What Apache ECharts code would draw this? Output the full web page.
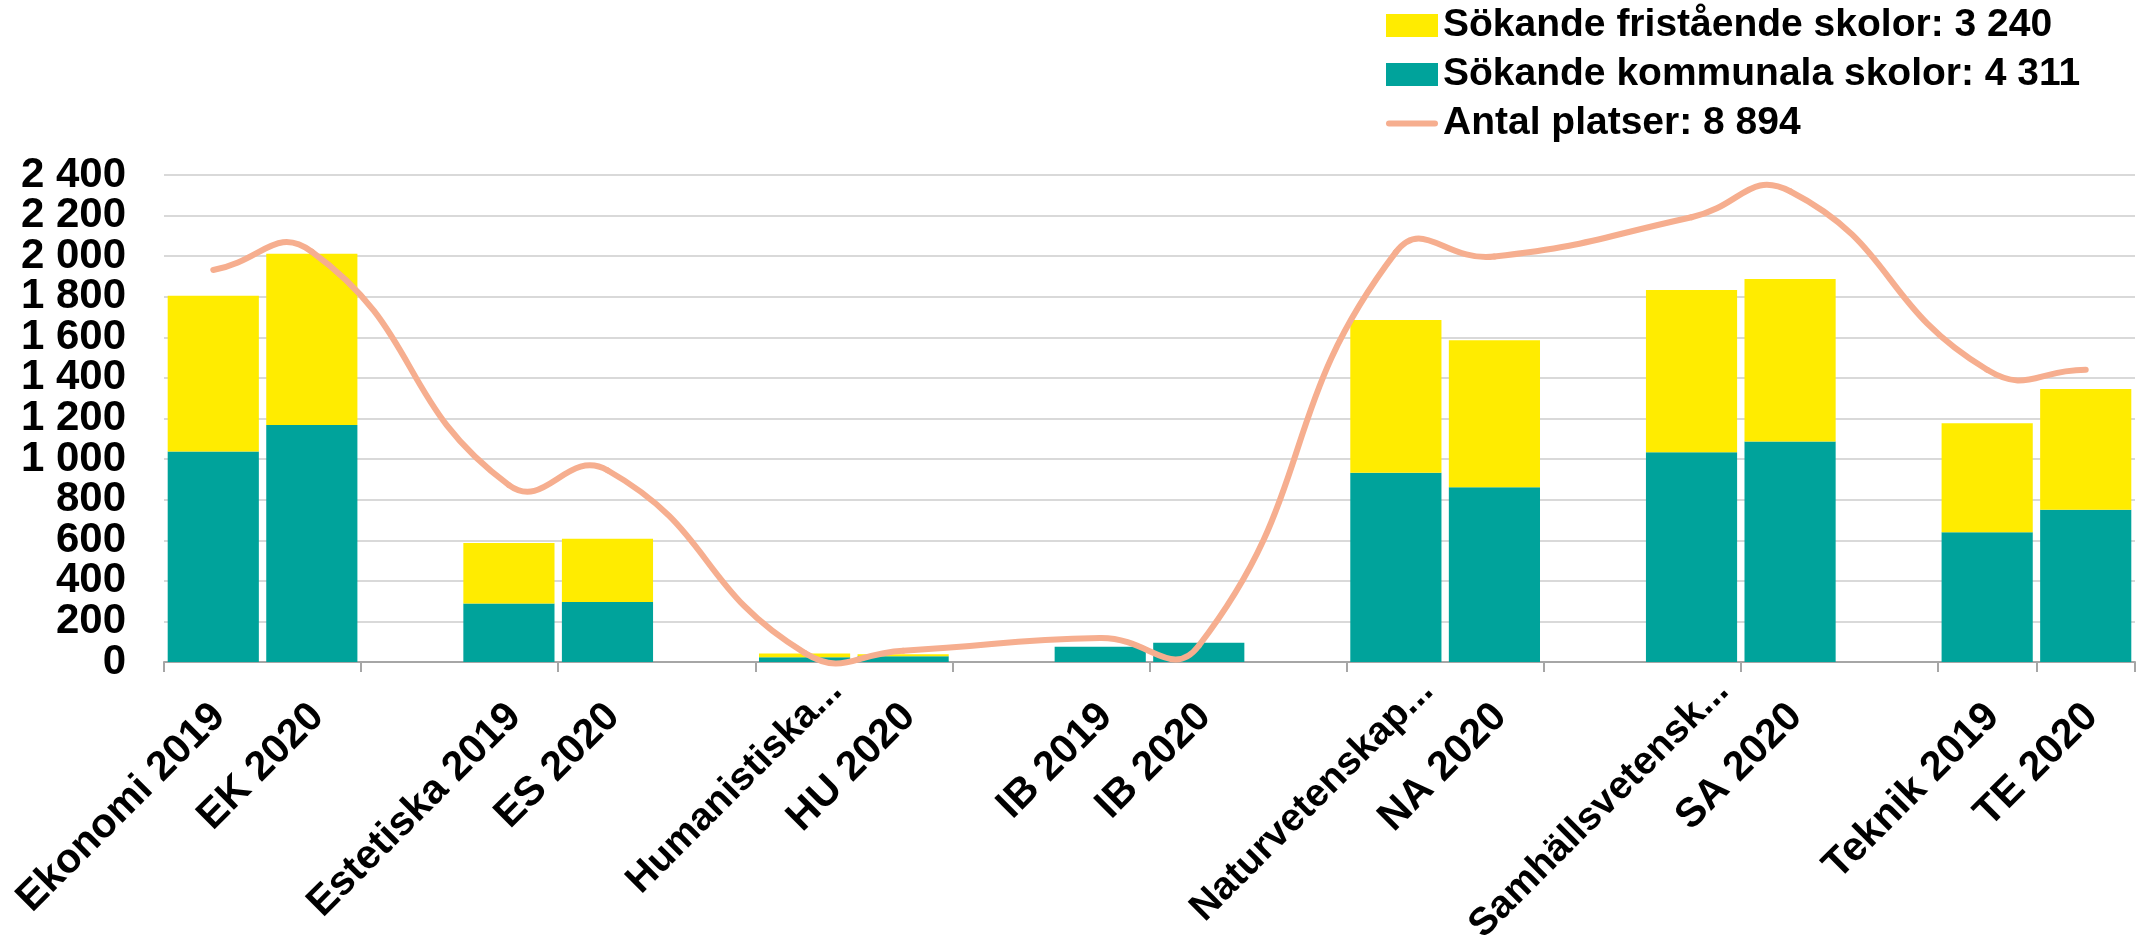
<!DOCTYPE html>
<html><head><meta charset="utf-8">
<script src="https://cdn.jsdelivr.net/npm/echarts@6/dist/echarts.min.js"></script>
<style>html,body{margin:0;padding:0;background:#fff}#c{width:2139px;height:935px}</style>
</head><body><div id="c"></div>
<script>
const categories = ['Ekonomi 2019','EK 2020','','Estetiska 2019','ES 2020','','Humanistiska...','HU 2020','','IB 2019','IB 2020','','Naturvetenskap...','NA 2020','','Samhällsvetensk...','SA 2020','','Teknik 2019','TE 2020'];
const truncatedLabels = ['Humanistiska...','Naturvetenskap...','Samhällsvetensk...'];
const kommunala = [1037,1168,null,288,296,null,23,28,null,75,95,null,933,861,null,1034,1087,null,639,750];
const fristaende = [768,844,null,298,312,null,19,10,null,0,0,null,752,725,null,799,800,null,537,595];
const platser = [1932,2022,null,872,945,null,45,56,null,118,80,null,2020,1998,null,2192,2320,null,1440,1440];
const yTickLabels = ['0','200','400','600','800','1 000','1 200','1 400','1 600','1 800','2 000','2 200','2 400'];
const legendNames = ['Sökande fristående skolor: 3 240','Sökande kommunala skolor: 4 311','Antal platser: 8 894'];

// line points on a hidden value x-axis that shares the category positions
const platserPoints = [];
platser.forEach((v, i) => { if (v !== null) platserPoints.push([i, v]); });

const LINE_COLOR = '#F6AE8F';
const SMOOTH = 0.5;
// spreadsheet-style smoothed line: cubic segments between the data points (pixel positions from api.coord)
function renderPlatser(params, api) {
  const k = params.dataIndex;
  const n = platserPoints.length;
  if (k >= n - 1) return null;
  const pts = platserPoints.map(p => api.coord(p));
  const handles = i => {
    const p = pts[i], prev = pts[Math.max(0, i - 1)], next = pts[Math.min(n - 1, i + 1)];
    const vx = next[0] - prev[0], vy = next[1] - prev[1];
    const l0 = Math.hypot(p[0] - prev[0], p[1] - prev[1]);
    const l1 = Math.hypot(next[0] - p[0], next[1] - p[1]);
    const r = l1 / (l0 + l1);
    return {
      before: [p[0] - vx * SMOOTH * (1 - r), p[1] - vy * SMOOTH * (1 - r)],
      after: [p[0] + vx * SMOOTH * r, p[1] + vy * SMOOTH * r]
    };
  };
  const a = handles(k).after, b = handles(k + 1).before;
  return {
    type: 'bezierCurve',
    shape: {x1: pts[k][0], y1: pts[k][1], x2: pts[k + 1][0], y2: pts[k + 1][1],
            cpx1: a[0], cpy1: a[1], cpx2: b[0], cpy2: b[1]},
    style: {stroke: LINE_COLOR, lineWidth: 6, fill: null, lineCap: 'round'}
  };
}

const FONT = 'Liberation Sans';
const yLabelStyle = {fontSize: 42, fontFamily: FONT, fontWeight: 'bold', color: '#000', margin: 38,
  showMinLabel: true, showMaxLabel: true, hideOverlap: false};
// two overlaid value axes with the same scale: one labels even ticks, the other odd ticks
const yAxisFor = (parity, withGrid) => ({
  type: 'value', min: 0, max: 2400, interval: 200, position: 'left',
  axisLine: {show: false}, axisTick: {show: false},
  axisLabel: Object.assign({}, yLabelStyle, {
    formatter: v => { const i = Math.round(v / 200); return i % 2 === parity ? yTickLabels[i] : ''; }
  }),
  splitLine: {show: withGrid, lineStyle: {color: '#D9D9D9', width: 2}}
});

const chart = echarts.init(document.getElementById('c'));
chart.setOption({
  animation: false,
  backgroundColor: '#fff',
  legend: {
    orient: 'vertical', left: 1381, top: 1,
    itemWidth: 52, itemHeight: 23, itemGap: 10,
    textStyle: {fontSize: 39, fontFamily: FONT, fontWeight: 'bold', color: '#000'},
    data: [
      {name: legendNames[0], icon: 'rect'},
      {name: legendNames[1], icon: 'rect'},
      {name: legendNames[2], icon: 'path://M3,0 L49,0 A3,3 0 0 1 49,6 L3,6 A3,3 0 0 1 3,0 Z', itemStyle: {color: LINE_COLOR}}
    ]
  },
  grid: {left: 164, right: 4, top: 175, bottom: 273, containLabel: false, outerBoundsMode: 'none'},
  xAxis: [{
    type: 'category', boundaryGap: true,
    data: categories.map(c => truncatedLabels.includes(c)
      ? {value: c, textStyle: {fontSize: 39, padding: [0, -44, 0, 0]}}
      : {value: c, textStyle: {padding: [0, -8, 0, 0]}}),
    axisLine: {lineStyle: {color: '#A6A6A6', width: 2}},
    axisTick: {show: true, interval: 1, length: 10, lineStyle: {color: '#A6A6A6', width: 2}},
    axisLabel: {interval: 0, rotate: 45, margin: 54, fontSize: 41, fontFamily: FONT, fontWeight: 'bold', color: '#000'}
  }, {
    type: 'value', min: -0.5, max: categories.length - 0.5, show: false
  }],
  yAxis: [yAxisFor(0, true), yAxisFor(1, false)],
  series: [
    {name: legendNames[1], type: 'bar', stack: 's', data: kommunala, barWidth: '92.5%', itemStyle: {color: '#00A39B'}},
    {name: legendNames[0], type: 'bar', stack: 's', data: fristaende, barWidth: '92.5%', itemStyle: {color: '#FFEC00'}},
    {name: legendNames[2], type: 'custom', coordinateSystem: 'cartesian2d', xAxisIndex: 1, yAxisIndex: 0,
     data: platserPoints, encode: {x: 0, y: 1}, renderItem: renderPlatser, clip: false, z: 5,
     itemStyle: {color: LINE_COLOR}}
  ]
});
</script></body></html>
